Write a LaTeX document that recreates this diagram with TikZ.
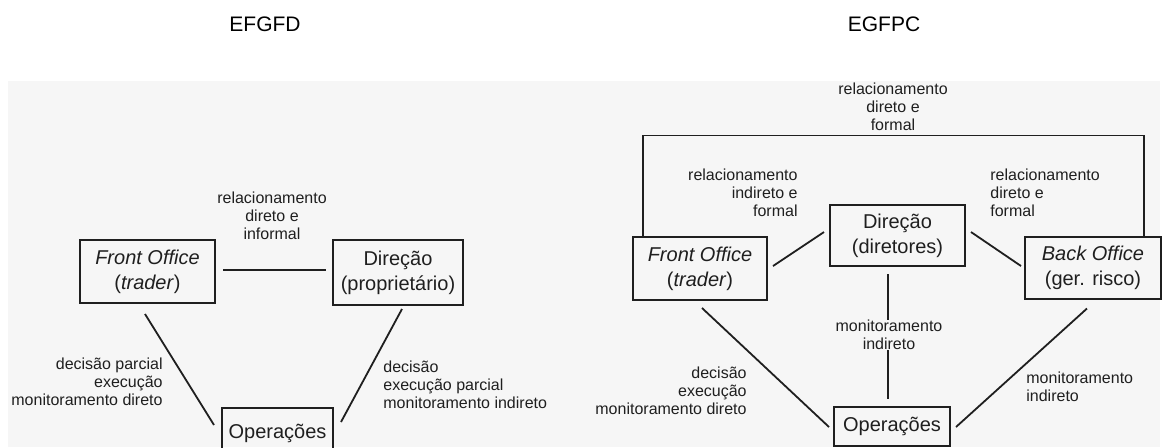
\documentclass[tikz,border=0pt]{standalone}
\usepackage{fontspec}
\setmainfont{Liberation Sans}
\usepackage{tikz}
\usetikzlibrary{calc,positioning}
\newcommand{\linew}{1pt}
\newcommand{\labelsize}{\fontsize{8}{9}\selectfont}
\definecolor{scan}{gray}{0.965}
\definecolor{ink}{gray}{0.12}

\begin{document}
\begin{tikzpicture}[x=0.5pt,y=-0.5pt]
    \tikzset{
        officebox/.style={draw=ink, line width=\linew, align=center, text=ink,
            font=\fontsize{10}{12.5}\selectfont, inner sep=0pt},
        lbl/.style={text=ink, font=\labelsize, inner sep=0pt},
        link/.style={draw=ink, line width=0.9pt},
        heading/.style={font=\fontsize{10.5}{12}\selectfont, inner sep=0pt}
    }
    \useasboundingbox (0,0) rectangle (1164,447);
    \clip (0,0) rectangle (1164,447);
    \fill[scan] (8,81) rectangle (1160,447);

    \node[heading] (tleft) at (265,24) {EFGFD};
    \node[heading] (tright) at (884,24) {EGFPC};

    % EFGFD
    \node[officebox, minimum width=67.5pt, minimum height=31.5pt] (lfront) at (147.5,271.5)
        {\textit{Front Office}\\(\textit{trader})};
    \node[officebox, minimum width=65pt, minimum height=32.5pt] (ldir) at (398,272.5)
        {Direção\\(proprietário)};
    \node[officebox, minimum width=55.5pt, minimum height=25pt] (lop) at (277.5,433) {Operações};

    \node[lbl, align=center] (linfo) at (272,216) {relacionamento\\direto e\\informal};
    \node[lbl, align=right, anchor=east] (lexec) at (163,382)
        {decisão parcial\\execução\\monitoramento direto};
    \node[lbl, align=left, anchor=west] (lmon) at (383,385)
        {decisão\\execução parcial\\monitoramento indireto};

    \draw[link] ($(lfront.east)+(7,-1.5)$) -- ($(ldir.west)+(-6,-2.5)$);
    \draw[link] ($(lfront.south)+(-2.5,10)$) -- ($(lop.west)+(-7,-8)$);
    \draw[link] ($(ldir.south)+(4,3)$) -- ($(lop.east)+(7,-11)$);

    % EGFPC
    \node[officebox, minimum width=67pt, minimum height=31.5pt] (rfront) at (700,268.5)
        {\textit{Front Office}\\(\textit{trader})};
    \node[officebox, minimum width=67.5pt, minimum height=30.5pt] (rdir) at (897.5,235.5)
        {Direção\\(diretores)};
    \node[officebox, minimum width=68pt, minimum height=31pt] (rback) at (1093,267.5)
        {\textit{Back Office}\\(ger. risco)};
    \node[officebox, minimum width=58pt, minimum height=19.5pt] (rop) at (892,426.5) {Operações};

    \node[lbl, align=center] (rtop) at (893,107) {relacionamento\\direto e\\formal};
    \node[lbl, align=right, anchor=east] (rind) at (798,193) {relacionamento\\indireto e\\formal};
    \node[lbl, align=left, anchor=west] (rdirf) at (990,193) {relacionamento\\direto e\\formal};
    \node[lbl, align=center] (rmon) at (889,335) {monitoramento\\indireto};
    \node[lbl, align=right, anchor=east] (rexec) at (747,391)
        {decisão\\execução\\monitoramento direto};
    \node[lbl, align=left, anchor=west] (rmonb) at (1026,387) {monitoramento\\indireto};

    \draw[link] ($(rfront.north west)+(11,0)$) |- ($(rback.north east)+(-18,-100)$)
        -- ($(rback.north east)+(-18,0)$);
    \draw[link] ($(rfront.east)+(5,-2.5)$) -- ($(rdir.west)+(-5,-3.5)$);
    \draw[link] ($(rdir.east)+(5,-3.5)$) -- ($(rback.west)+(-3,-1.5)$);
    \draw[link] ($(rdir.south -| rmon.north)+(-1,7)$) -- ($(rmon.north)+(-1,0)$);
    \draw[link] ($(rmon.south)+(-1,0)$) -- ($(rop.north -| rmon.south)+(-1,-7)$);
    \draw[link] ($(rfront.south)+(2,7)$) -- ($(rop.west)+(-4,0.5)$);
    \draw[link] ($(rback.south)+(-6,9)$) -- ($(rop.east)+(5,0.5)$);
\end{tikzpicture}
\end{document}
